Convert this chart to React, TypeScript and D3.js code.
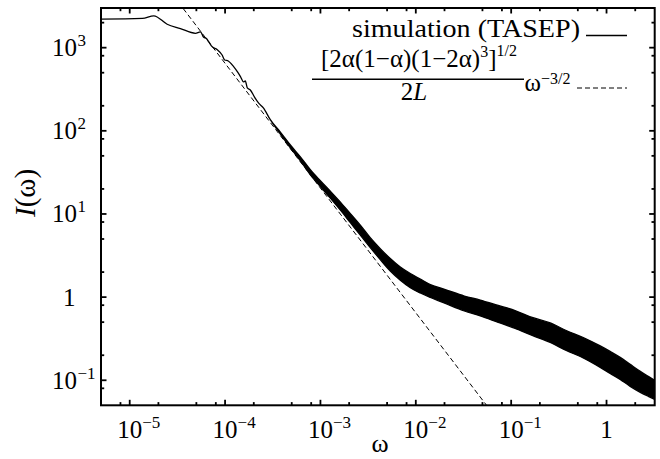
import React from 'react';
import * as d3 from 'd3';

const W = 660;
const H = 459;

// thin part of the simulated spectrum (single line)
const thinOmega = [5.0e-6, 1.36e-5, 1.79e-5, 2.47e-5, 3.40e-5, 4.89e-5, 5.51e-5, 5.97e-5, 6.37e-5, 6.73e-5,
  7.31e-5, 8.24e-5, 9.31e-5, 9.91e-5, 1.08e-4, 1.23e-4, 1.35e-4, 1.45e-4, 1.56e-4, 1.63e-4,
  1.71e-4, 1.84e-4, 2.03e-4, 2.25e-4, 2.52e-4, 2.98e-4];
const thinI = [2210, 2254, 2416, 1914, 1700, 1489, 1552, 1334, 1290, 1181,
  1028, 951, 817, 711, 692, 591, 511, 449, 388, 398,
  328, 310, 256, 215, 189, 136];

// noisy part: upper and lower envelope of the fluctuating data
const bandOmega = [3.80e-4, 4.84e-4, 6.16e-4, 7.84e-4, 9.98e-4, 1.27e-3, 1.62e-3, 2.06e-3, 2.62e-3,
  3.33e-3, 4.24e-3, 5.40e-3, 6.88e-3, 8.76e-3, 1.115e-2, 1.42e-2, 2.04e-2, 3.23e-2, 4.74e-2,
  7.32e-2, 0.110, 0.166, 0.257, 0.378, 0.570, 0.859, 1.09, 1.39, 1.77, 2.26, 2.74, 3.2];
const bandHigh = [96.5, 67.5, 48.7, 34.0, 25.1, 18.8, 13.9, 10.1, 7.34,
  5.19, 3.83, 2.91, 2.30, 1.92, 1.65, 1.417, 1.234, 1.031, 0.923,
  0.793, 0.690, 0.569, 0.489, 0.397, 0.327, 0.2588, 0.2222, 0.1883, 0.1552, 0.1279, 0.1114, 0.0997];
const bandLow = [91.3, 62.2, 43.6, 29.6, 21.3, 15.5, 11.1, 7.86, 5.57,
  3.94, 2.83, 2.06, 1.60, 1.30, 1.12, 0.989, 0.838, 0.681, 0.593,
  0.496, 0.420, 0.346, 0.285, 0.2285, 0.1857, 0.1429, 0.1210, 0.1025, 0.0845, 0.0716, 0.0641, 0.0590];

// theoretical power law omega^{-3/2} (two endpoints of the straight log-log line)
const theoryOmega = [1e-5, 0.1];
const theoryI = [2.05e4, 2.05e-2];

const xMajor = [1e-5, 1e-4, 1e-3, 1e-2, 1e-1, 1];
const xBase = ['10', '10', '10', '10', '10', '1'];
const xExp = ['−5', '−4', '−3', '−2', '−1', ''];
const yMajor = [1e3, 1e2, 1e1, 1, 1e-1];
const yBase = ['10', '10', '10', '1', '10'];
const yExp = ['3', '2', '1', '', '−1'];
const minorMult = [2, 5, 8];
const decades = [-6, -5, -4, -3, -2, -1, 0, 1, 2, 3];

const FONT = "Liberation Serif, DejaVu Serif, Times New Roman, serif";

export default function App() {
  const L = 101, R = 654.7, T = 8, B = 405.3;
  const x = d3.scaleLog().domain([5e-6, 3.2]).range([L, R]);
  const y = d3.scaleLog().domain([0.05, 3000]).range([B, T]);

  const omega = thinOmega.concat(bandOmega);
  const hi = thinI.concat(bandHigh);
  const lo = thinI.concat(bandLow);
  const idx = d3.range(omega.length);
  const area = d3.area<number>()
    .x(i => x(omega[i]))
    .y0(i => y(lo[i]))
    .y1(i => y(hi[i]))
    .curve(d3.curveMonotoneX);
  const theoryLine = d3.line<number>()
    .x(i => x(theoryOmega[i]))
    .y(i => y(theoryI[i]));

  const [x0, x1] = x.domain();
  const [y0, y1] = y.domain();
  const xMinor: number[] = [];
  const yMinor: number[] = [];
  decades.forEach(k => minorMult.forEach(m => {
    const v = m * Math.pow(10, k);
    if (v > x0 && v < x1) xMinor.push(v);
    if (v > y0 && v < y1) yMinor.push(v);
  }));

  const tickW = 1.8;
  const majLen = 5.5;
  const minLen = 3.2;

  return (
    <svg width={W} height={H} style={{ position: 'absolute', left: 0, top: 0, background: '#fff', fontFamily: FONT }}>
      <defs>
        <clipPath id="plotclip">
          <rect x={L} y={T} width={R - L} height={B - T} />
        </clipPath>
      </defs>
      <rect x={0} y={0} width={W} height={H} fill="#fff" />

      <g clipPath="url(#plotclip)">
        <path d={theoryLine([0, 1]) || ''} fill="none" stroke="#000" strokeWidth={1} strokeDasharray="5,3" />
        <path d={area(idx) || ''} fill="#000" stroke="#000" strokeWidth={1.3} strokeLinejoin="round" />
      </g>

      {/* ticks */}
      <g stroke="#000" strokeWidth={tickW}>
        {xMajor.map((v, i) => (
          <g key={'xm' + i}>
            <line x1={x(v)} x2={x(v)} y1={B} y2={B - majLen} />
            <line x1={x(v)} x2={x(v)} y1={T} y2={T + majLen} />
          </g>
        ))}
        {xMinor.map((v, i) => (
          <g key={'xn' + i}>
            <line x1={x(v)} x2={x(v)} y1={B} y2={B - minLen} />
            <line x1={x(v)} x2={x(v)} y1={T} y2={T + minLen} />
          </g>
        ))}
        {yMajor.map((v, i) => (
          <g key={'ym' + i}>
            <line x1={L} x2={L + majLen} y1={y(v)} y2={y(v)} />
            <line x1={R} x2={R - majLen} y1={y(v)} y2={y(v)} />
          </g>
        ))}
        {yMinor.map((v, i) => (
          <g key={'yn' + i}>
            <line x1={L} x2={L + minLen} y1={y(v)} y2={y(v)} />
            <line x1={R} x2={R - minLen} y1={y(v)} y2={y(v)} />
          </g>
        ))}
      </g>

      <rect x={L} y={T} width={R - L} height={B - T} fill="none" stroke="#000" strokeWidth={2} />

      {/* x tick labels */}
      {xMajor.map((v, i) => (
        <g key={'xl' + i}>
          <text x={x(v)} y={438} textAnchor="middle" fontSize={25}>{xBase[i]}</text>
          {xExp[i] && <text x={x(v) + 12.5} y={428} fontSize={17}>{xExp[i]}</text>}
        </g>
      ))}

      {/* y tick labels */}
      {yMajor.map((v, i) => (
        <g key={'yl' + i}>
          <text x={yBase[i] === '1' ? 75.5 : 77} y={y(v) + 8.5} textAnchor="end" fontSize={25}>{yBase[i]}</text>
          {yExp[i] && <text x={77.5} y={y(v) - 1.5} fontSize={17}>{yExp[i]}</text>}
        </g>
      ))}

      {/* axis titles */}
      <text x={380} y={451.5} textAnchor="middle" fontSize={26}>ω</text>
      <text transform="translate(35,193) rotate(-90)" textAnchor="middle" fontSize={29}>
        <tspan fontStyle="italic">I</tspan>(ω)
      </text>

      {/* legend */}
      <text x={580} y={36.5} textAnchor="end" fontSize={25.5} textLength={228} lengthAdjust="spacingAndGlyphs">simulation (TASEP)</text>
      <line x1={586} x2={627} y1={35.5} y2={35.5} stroke="#000" strokeWidth={1.5} />

      <text x={419} y={66.7} textAnchor="middle" fontSize={25}>
        [2α(1−α)(1−2α)<tspan fontSize={16} dy={-10}>3</tspan><tspan dy={10}>]</tspan><tspan fontSize={16} dy={-11}>1/2</tspan>
      </text>
      <line x1={312} x2={524} y1={79.3} y2={79.3} stroke="#000" strokeWidth={1.6} />
      <text x={414} y={100} textAnchor="middle" fontSize={25}>2<tspan fontStyle="italic">L</tspan></text>
      <text x={524.5} y={91} fontSize={25}>ω<tspan fontSize={16} dy={-7.5}>−3/2</tspan></text>
      <line x1={577} x2={627} y1={88} y2={88} stroke="#000" strokeWidth={1} strokeDasharray="5,3" />
    </svg>
  );
}
